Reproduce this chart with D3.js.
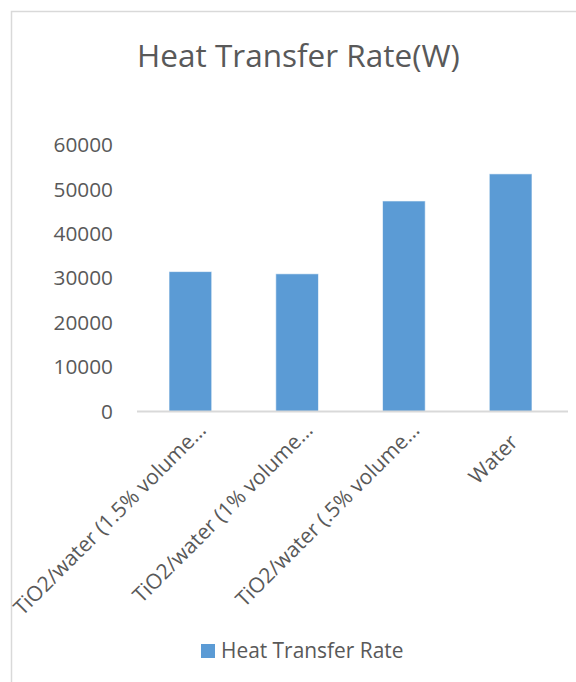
<!DOCTYPE html>
<html><head><meta charset="utf-8">
<script src="https://cdn.jsdelivr.net/npm/d3@7"></script>
<style>body{margin:0;background:#fff}</style>
</head><body>
<script>
const categories = ["TiO2/water (1.5% volume…", "TiO2/water (1% volume…", "TiO2/water (.5% volume…", "Water"];
const values = [31500, 31000, 47400, 53500];
const yTicks = [0, 10000, 20000, 30000, 40000, 50000, 60000];
const title = "Heat Transfer Rate(W)";
const seriesName = "Heat Transfer Rate";

const W = 576, H = 682;
const font = "'Open Sans', sans-serif";
const svg = d3.select("body").append("svg").attr("width", W).attr("height", H);

svg.append("rect").attr("x", 11.5).attr("y", 11.5).attr("width", W).attr("height", H)
  .attr("fill", "#fff").attr("stroke", "#d9d9d9").attr("stroke-width", 1.5);

const x = d3.scaleBand().domain(categories).range([137, 564]).paddingInner(0.6).paddingOuter(0.3);
const y = d3.scaleLinear().domain([0, 60000]).range([411.5, 145]);

svg.append("text").attr("x", 298.5).attr("y", 67).attr("text-anchor", "middle")
  .attr("font-family", font).attr("font-size", 31.5).attr("fill", "#595959").text(title);

// y axis labels
const yAxis = d3.axisLeft(y).tickValues(yTicks).tickSize(0).tickPadding(0).tickFormat(d3.format("d"));
const gy = svg.append("g").attr("transform", "translate(113,0)").call(yAxis);
gy.select(".domain").remove();
gy.selectAll("text").attr("font-family", font).attr("font-size", 20.8).attr("fill", "#595959");

// bars
svg.selectAll("rect.bar").data(values).join("rect").attr("class", "bar")
  .attr("x", (d, i) => x(categories[i])).attr("width", x.bandwidth())
  .attr("y", d => y(d)).attr("height", d => y(0) - y(d))
  .attr("fill", "#5b9bd5").attr("stroke", "#ffffff").attr("stroke-opacity", 0.6).attr("stroke-width", 1);

// x axis
const xAxis = d3.axisBottom(x).tickSize(0).tickPadding(0);
const gx = svg.append("g").attr("transform", `translate(0,${y(0)})`).call(xAxis);
gx.select(".domain").attr("stroke", "#d9d9d9").attr("stroke-width", 2).attr("d", "M137,0H568");
gx.selectAll(".tick text")
  .attr("font-family", font).attr("font-size", 21).attr("fill", "#595959")
  .attr("text-anchor", "end").attr("dy", 0)
  .attr("y", 0)
  .attr("transform", d => {
    const trunc = d.endsWith("…");
    const bx = trunc ? 17 : 8.5, by = trunc ? 20 : 32;
    return `translate(${bx},${by}) rotate(-45)`;
  });

// legend
const lg = svg.append("g");
lg.append("rect").attr("x", 201).attr("y", 644).attr("width", 14).attr("height", 14).attr("fill", "#5b9bd5");
lg.append("text").attr("x", 221).attr("y", 658).attr("font-family", font).attr("font-size", 20.9)
  .attr("fill", "#595959").text(seriesName);
</script>
</body></html>
